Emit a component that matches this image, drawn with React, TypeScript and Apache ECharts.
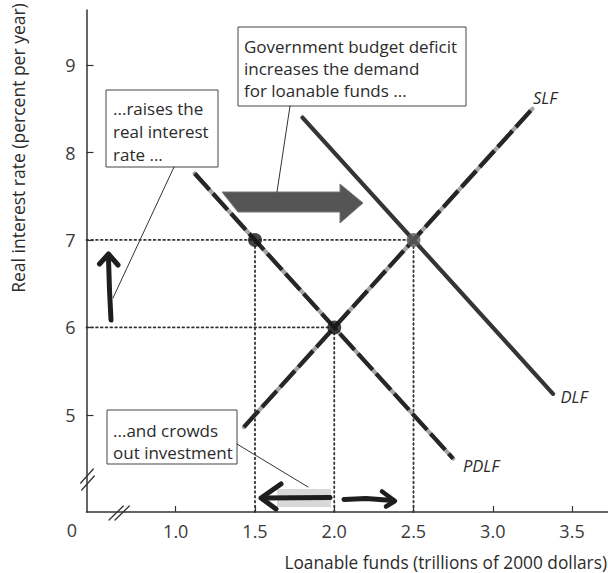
import React, { useEffect, useRef } from "react";
import * as echarts from "echarts";

// ---- data ----
const xTickValues = [1.0, 1.5, 2.0, 2.5, 3.0, 3.5];
const yTickValues = [5, 6, 7, 8, 9];
const X_MIN = 0.437;
const X_MAX = 3.727;
const Y_MIN = 3.889;
const Y_MAX = 9.63;

const slfPoints = [[1.43, 4.86], [3.25, 8.5]];
const dlfPoints = [[1.8, 8.4], [3.38, 5.24]];
const pdlfPoints = [[1.12, 7.76], [2.75, 4.5]];

const investmentPoint = [1.5, 7];
const initialEquilibrium = [2.0, 6];
const newEquilibrium = [2.5, 7];

const FONT = "'Open Sans', 'DejaVu Sans', sans-serif";
const INK = "#2b2b2b";

function guide(data: number[][]) {
  return {
    type: "line",
    data,
    symbol: "none",
    silent: true,
    z: 1,
    lineStyle: { color: "#333", width: 1.8, type: [1.6, 3.2], cap: "round" },
  };
}

function text(x: number, y: number, t: string, extra: any = {}) {
  const align = extra.align || "left";
  return {
    type: "text",
    x,
    y,
    rotation: extra.rotation || 0,
    z: 100,
    style: {
      text: t,
      fontFamily: FONT,
      fontSize: extra.fontSize || 16,
      fontStyle: extra.fontStyle || "normal",
      lineHeight: extra.lineHeight || 22,
      fill: extra.fill || INK,
      align,
      textAlign: align,
      verticalAlign: extra.verticalAlign || "middle",
      textVerticalAlign: extra.verticalAlign || "middle",
    },
  };
}

function box(x: number, y: number, w: number, h: number) {
  return {
    type: "rect",
    z: 90,
    shape: { x, y, width: w, height: h },
    style: { fill: "#fff", stroke: "#444", lineWidth: 1 },
  };
}

function seg(points: number[][], width: number, color = "#1e1e1e") {
  return {
    type: "polyline",
    z: 95,
    shape: { points },
    style: { stroke: color, lineWidth: width, fill: null, lineCap: "round", lineJoin: "round" },
  };
}

export default function App() {
  const ref = useRef<HTMLDivElement>(null);
  useEffect(() => {
    if (!ref.current) return;
    const chart = echarts.init(ref.current, null, { renderer: "svg" });
    const option: any = {
      animation: false,
      backgroundColor: "#fff",
      grid: { left: 86.5, right: 0, top: 10, bottom: 61 },
      xAxis: {
        type: "value",
        min: X_MIN,
        max: X_MAX,
        splitLine: { show: false },
        axisLine: { show: true, lineStyle: { color: "#333", width: 1.5 } },
        axisTick: { show: true, inside: true, length: 6, customValues: xTickValues, lineStyle: { color: "#333", width: 1.2 } },
        axisLabel: {
          customValues: xTickValues,
          formatter: (v: number) => v.toFixed(1),
          fontFamily: FONT,
          fontSize: 18,
          color: "#3a3a3a",
          margin: 10,
        },
      },
      yAxis: {
        type: "value",
        min: Y_MIN,
        max: Y_MAX,
        splitLine: { show: false },
        axisLine: { show: true, lineStyle: { color: "#333", width: 1.5 } },
        axisTick: { show: true, inside: true, length: 7, customValues: yTickValues, lineStyle: { color: "#333", width: 1.2 } },
        axisLabel: {
          customValues: yTickValues,
          formatter: (v: number) => String(Math.round(v)),
          fontFamily: FONT,
          fontSize: 18,
          color: "#3a3a3a",
          margin: 11,
        },
      },
      series: [
        guide([[X_MIN, investmentPoint[1]], [newEquilibrium[0], newEquilibrium[1]]]),
        guide([[X_MIN, initialEquilibrium[1]], [initialEquilibrium[0], initialEquilibrium[1]]]),
        guide([[investmentPoint[0], Y_MIN], investmentPoint]),
        guide([[initialEquilibrium[0], Y_MIN], initialEquilibrium]),
        guide([[newEquilibrium[0], Y_MIN], newEquilibrium]),
        // DLF solid
        {
          type: "line", data: dlfPoints, symbol: "none", silent: true, z: 3,
          lineStyle: { color: "#353535", width: 4.2, cap: "round" },
        },
        // SLF base + dashes
        {
          type: "line", data: slfPoints, symbol: "none", silent: true, z: 3,
          lineStyle: { color: "#a5a5a5", width: 4.2, cap: "round" },
        },
        {
          type: "line", data: slfPoints, symbol: "none", silent: true, z: 4,
          lineStyle: { color: "#262626", width: 4.2, type: [22, 5], cap: "butt" },
        },
        // PDLF base + dashes
        {
          type: "line", data: pdlfPoints, symbol: "none", silent: true, z: 3,
          lineStyle: { color: "#a5a5a5", width: 4.2, cap: "round" },
        },
        {
          type: "line", data: pdlfPoints, symbol: "none", silent: true, z: 4,
          lineStyle: { color: "#262626", width: 4.2, type: [22, 5], cap: "butt" },
        },
        {
          type: "scatter", data: [investmentPoint, initialEquilibrium], symbolSize: 14, z: 6, silent: true,
          itemStyle: { color: "#161616" },
        },
        {
          type: "scatter", data: [newEquilibrium], symbolSize: 14, z: 6, silent: true,
          itemStyle: { color: "#5c5c5c" },
        },
      ],
      graphic: [
        // axis titles
        text(18, 148, "Real interest rate (percent per year)", { align: "center", rotation: Math.PI / 2, fontSize: 17.5 }),
        text(607, 562, "Loanable funds (trillions of 2000 dollars)", { align: "right", fontSize: 17.3 }),
        text(72, 530, "0", { align: "center", fontSize: 18, fill: "#3a3a3a" }),
        // axis breaks
        seg([[80.7, 483], [93.3, 469]], 1.3, "#333"),
        seg([[81.7, 490], [94.3, 476]], 1.3, "#333"),
        seg([[109, 520], [123.3, 506]], 1.3, "#333"),
        seg([[115, 520], [129.3, 506]], 1.3, "#333"),
        // curve labels
        text(545, 97, "SLF", { align: "center", fontStyle: "italic", fontSize: 16.5 }),
        text(574, 396, "DLF", { align: "center", fontStyle: "italic", fontSize: 16.5 }),
        text(481, 465, "PDLF", { align: "center", fontStyle: "italic", fontSize: 16.5 }),
        // leader lines
        seg([[290, 106], [277, 192]], 1, "#333"),
        seg([[174, 167], [113, 298]], 1, "#333"),
        seg([[237, 444], [308, 487]], 1, "#333"),
        // boxes
        box(238, 27, 228, 79),
        text(244, 36, "Government budget deficit\nincreases the demand\nfor loanable funds ...", { verticalAlign: "top", fontSize: 17, lineHeight: 21.7 }),
        box(106, 90, 112, 77),
        text(113, 97, "...raises the\nreal interest\nrate ...", { verticalAlign: "top", fontSize: 17, lineHeight: 23 }),
        box(107, 410, 130, 54),
        text(113, 419, "...and crowds\nout investment", { verticalAlign: "top", fontSize: 17, lineHeight: 22 }),
        // big shift arrow
        {
          type: "polygon",
          z: 50,
          shape: { points: [[222, 192], [340, 192], [340, 184], [363, 203], [340, 223], [340, 212], [238, 212]] },
          style: { fill: "#555", stroke: "#777", lineWidth: 1 },
        },
        // up arrow
        seg([[111, 320], [109.5, 290], [108.5, 259]], 5),
        seg([[99.5, 264], [108.5, 254], [118, 265]], 5),
        // bottom arrows
        {
          type: "rect", z: 92, shape: { x: 277, y: 489, width: 54, height: 18 },
          style: { fill: "#cfcfcf", opacity: 0.8 },
        },
        seg([[330, 497.5], [263, 498]], 5),
        seg([[281, 484], [261, 498], [276, 509]], 5),
        seg([[344, 499.5], [366, 498.5], [393, 500.5]], 5),
        seg([[382, 491.5], [395, 501], [386, 506.5]], 4.5),
      ],
    };
    chart.setOption(option);
    return () => chart.dispose();
  }, []);
  return (
    <div
      ref={ref}
      style={{ position: "fixed", left: 0, top: 0, width: 608, height: 573, background: "#fff" }}
    />
  );
}
